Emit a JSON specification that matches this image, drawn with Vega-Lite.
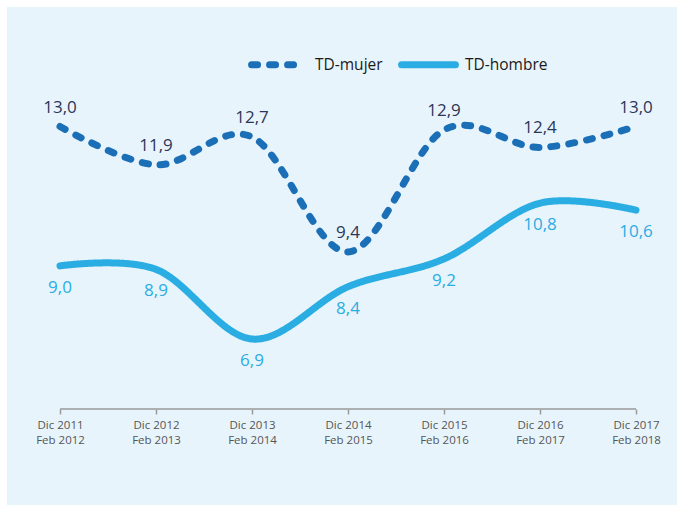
{
  "$schema": "https://vega.github.io/schema/vega-lite/v6.json",
  "width": 670,
  "height": 498,
  "autosize": {"type": "none"},
  "padding": {"left": 7, "top": 7, "right": 0, "bottom": 0},
  "background": "white",
  "config": {
    "view": {"fill": "#E8F4FC", "stroke": null},
    "font": "Open Sans",
    "locale": {"number": {"decimal": ",", "thousands": ".", "grouping": [3], "currency": ["", " €"]}}
  },
  "data": {
    "values": [
      {"i": 0, "serie": "TD-mujer", "valor": 13.0},
      {"i": 1, "serie": "TD-mujer", "valor": 11.9},
      {"i": 2, "serie": "TD-mujer", "valor": 12.7},
      {"i": 3, "serie": "TD-mujer", "valor": 9.4},
      {"i": 4, "serie": "TD-mujer", "valor": 12.9},
      {"i": 5, "serie": "TD-mujer", "valor": 12.4},
      {"i": 6, "serie": "TD-mujer", "valor": 13.0},
      {"i": 0, "serie": "TD-hombre", "valor": 9.0},
      {"i": 1, "serie": "TD-hombre", "valor": 8.9},
      {"i": 2, "serie": "TD-hombre", "valor": 6.9},
      {"i": 3, "serie": "TD-hombre", "valor": 8.4},
      {"i": 4, "serie": "TD-hombre", "valor": 9.2},
      {"i": 5, "serie": "TD-hombre", "valor": 10.8},
      {"i": 6, "serie": "TD-hombre", "valor": 10.6}
    ]
  },
  "encoding": {
    "x": {
      "field": "i",
      "type": "quantitative",
      "scale": {"domain": [-0.5521, 6.4271], "nice": false, "zero": false},
      "axis": {
        "title": null,
        "values": [0, 1, 2, 3, 4, 5, 6],
        "domain": false,
        "grid": false,
        "offset": -96,
        "tickColor": "#9A9A9A",
        "tickSize": 5,
        "tickWidth": 1.5,
        "labelPadding": 5,
        "labelFontSize": 11.5,
        "labelColor": "#555555",
        "labelLineHeight": 15,
        "labelFlush": false,
        "labelOverlap": false,
        "labelExpr": "split(['Dic 2011|Feb 2012','Dic 2012|Feb 2013','Dic 2013|Feb 2014','Dic 2014|Feb 2015','Dic 2015|Feb 2016','Dic 2016|Feb 2017','Dic 2017|Feb 2018'][datum.value], '|')"
      }
    },
    "y": {
      "field": "valor",
      "type": "quantitative",
      "scale": {"domain": [2.136, 16.43], "nice": false, "zero": false},
      "axis": null
    }
  },
  "layer": [
    {
      "data": {"values": [{"i": 0, "i2": 6, "valor": 4.892}]},
      "mark": {"type": "rule", "color": "#9A9A9A", "strokeWidth": 1.5},
      "encoding": {"x2": {"field": "i2"}}
    },
    {
      "mark": {"type": "line", "interpolate": "cardinal", "strokeWidth": 7, "strokeCap": "round"},
      "encoding": {
        "color": {
          "field": "serie",
          "type": "nominal",
          "scale": {"domain": ["TD-mujer", "TD-hombre"], "range": ["#1B6FB6", "#2AADE3"]},
          "legend": {
            "orient": "none",
            "legendX": 241,
            "legendY": 27,
            "direction": "horizontal",
            "title": null,
            "symbolType": "stroke",
            "symbolSize": 2900,
            "symbolStrokeWidth": 7,
            "labelFontSize": 15.5,
            "labelColor": "#1A1A1A",
            "columnPadding": 4,
            "labelOffset": 6,
            "padding": 0,
            "encode": {"symbols": {"update": {"strokeCap": {"value": "round"}, "strokeDash": {"signal": "datum.value === 'TD-mujer' ? [9, 9] : [1, 0]"}}}}
          }
        },
        "strokeDash": {
          "field": "serie",
          "type": "nominal",
          "scale": {"domain": ["TD-mujer", "TD-hombre"], "range": [[6, 12], [1, 0]]},
          "legend": {
            "orient": "none",
            "legendX": 241,
            "legendY": 27,
            "direction": "horizontal",
            "title": null,
            "symbolType": "stroke",
            "symbolSize": 2900,
            "symbolStrokeWidth": 7,
            "labelFontSize": 15.5,
            "labelColor": "#1A1A1A",
            "columnPadding": 4,
            "labelOffset": 6,
            "padding": 0,
            "encode": {"symbols": {"update": {"strokeCap": {"value": "round"}, "strokeDash": {"signal": "datum.value === 'TD-mujer' ? [9, 9] : [1, 0]"}}}}
          }
        }
      }
    },
    {
      "transform": [{"filter": "datum.serie === 'TD-mujer'"}],
      "mark": {"type": "text", "baseline": "alphabetic", "dy": -14, "fontSize": 17, "color": "#2D3656"},
      "encoding": {"text": {"field": "valor", "type": "quantitative", "format": ".1f"}}
    },
    {
      "transform": [{"filter": "datum.serie === 'TD-hombre'"}],
      "mark": {"type": "text", "baseline": "top", "dy": 14, "fontSize": 17, "color": "#2AADE3"},
      "encoding": {"text": {"field": "valor", "type": "quantitative", "format": ".1f"}}
    }
  ]
}
